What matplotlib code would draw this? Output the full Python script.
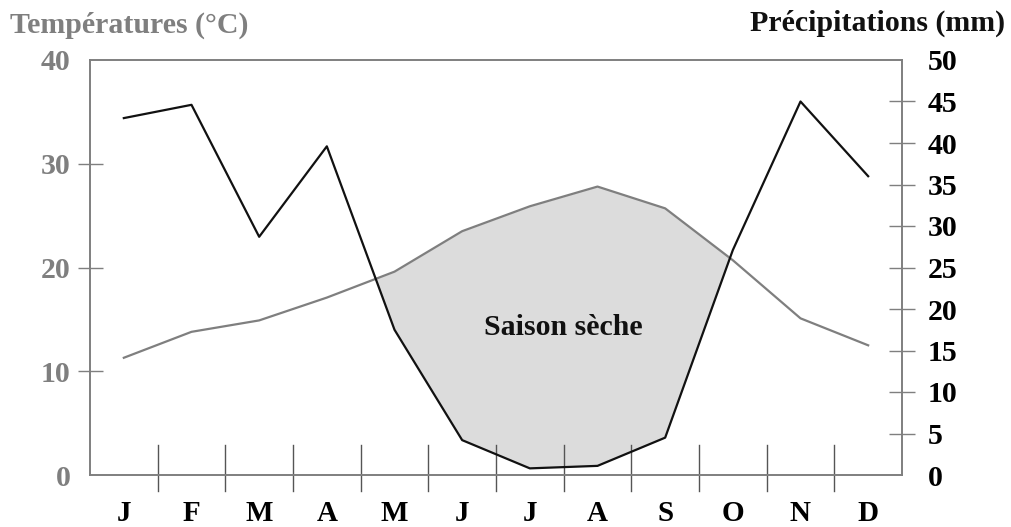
import numpy as np
import matplotlib.pyplot as plt

# Climate diagram: temperature (left, grey) and rainfall (right, black)
months = ["J", "F", "M", "A", "M", "J", "J", "A", "S", "O", "N", "D"]
temperature = [11.3, 13.8, 14.9, 17.1, 19.6, 23.5, 25.9, 27.8, 25.7, 20.7, 15.1, 12.5]
precipitation = [43.0, 44.6, 28.7, 39.6, 17.5, 4.2, 0.8, 1.1, 4.5, 27.1, 45.0, 36.0]

t_max = 40
p_max = 50

plt.rcParams['font.family'] = ['Liberation Serif', 'DejaVu Serif']
plt.rcParams['font.weight'] = 'bold'

grey = '#7f7f7f'
x = np.arange(12) + 0.5

fig = plt.figure(figsize=(10.11, 5.27), dpi=100)
ax = fig.add_axes([90 / 1011, 52 / 527, 812 / 1011, 415 / 527])
ax2 = ax.twinx()

# dry season = where rainfall (rescaled) is under the temperature curve
p_scaled = np.array(precipitation) * t_max / p_max
ax.fill_between(x, p_scaled, temperature, where=p_scaled < np.array(temperature),
                interpolate=True, color='#dcdcdc', linewidth=0)
ax.plot(x, temperature, color=grey, linewidth=1.6)
ax2.plot(x, precipitation, color='#111111', linewidth=1.6)

ax.set_xlim(0, 12)
ax.set_ylim(0, t_max)
ax2.set_ylim(0, p_max)

for s in ['left', 'right', 'top', 'bottom']:
    ax.spines[s].set_color(grey)
    ax.spines[s].set_linewidth(1.2)
    ax2.spines[s].set_color(grey)
    ax2.spines[s].set_linewidth(1.2)

# month separators crossing the x axis
for b in range(1, 12):
    ax.axvline(b, ymin=-16 / 415, ymax=30 / 415, color='#555555',
               linewidth=1.0, clip_on=False)

ax.set_xticks(x)
ax.set_xticklabels(months)
ax.tick_params(axis='x', length=0, pad=18, labelsize=21, labelcolor='black')

ax.set_yticks([0, 10, 20, 30, 40])
ax.tick_params(axis='y', direction='inout', length=18, width=1.0, color=grey,
               labelcolor=grey, labelsize=21.5, pad=5)
for i in (0, 4):
    ax.yaxis.get_major_ticks()[i].tick1line.set_visible(False)

ax2.set_yticks(np.arange(0, 55, 5))
ax2.tick_params(axis='y', direction='inout', length=19, width=1.0, color=grey,
                labelcolor='black', labelsize=21.5, pad=9)
for i in (0, 10):
    ax2.yaxis.get_major_ticks()[i].tick2line.set_visible(False)

ax.text(7.0, 14.2, "Saison sèche", ha='center', va='center', fontsize=21.5,
        fontweight='bold', color='#111111')

fig.text(10 / 1011, 1 - 25 / 527, "Températures (°C)", ha='left', va='center',
         fontsize=21.5, fontweight='bold', color=grey)
fig.text(1005 / 1011, 1 - 23 / 527, "Précipitations (mm)", ha='right', va='center',
         fontsize=21.5, fontweight='bold', color='#111111')

fig.savefig('out.png', dpi=100)
